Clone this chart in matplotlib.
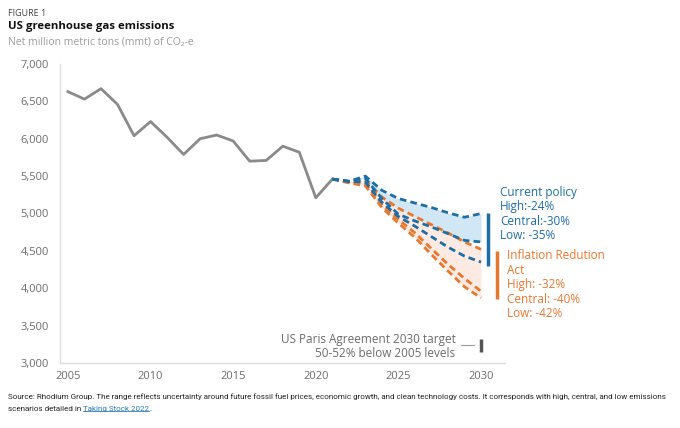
import matplotlib
matplotlib.use("Agg")
import matplotlib.pyplot as plt
from matplotlib.lines import Line2D

plt.rcParams["font.family"] = ["Open Sans", "DejaVu Sans"]

# historical net emissions, mmt CO2-e
hist_years = list(range(2005, 2022))
hist_vals = [6630, 6530, 6670, 6460, 6040, 6230, 6020, 5790, 6000, 6050,
             5970, 5700, 5710, 5900, 5820, 5210, 5460]

# projections 2021-2030
proj_years = list(range(2021, 2031))
cp_high = [5460, 5430, 5500, 5310, 5200, 5140, 5080, 5010, 4950, 5000]
cp_central = [5460, 5430, 5470, 5200, 4990, 4900, 4820, 4730, 4640, 4620]
cp_low = [5460, 5430, 5420, 5150, 4960, 4830, 4690, 4550, 4430, 4350]
ira_high = [5460, 5430, 5440, 5220, 5070, 4960, 4850, 4740, 4620, 4520]
ira_central = [5460, 5420, 5400, 5120, 4920, 4740, 4530, 4320, 4130, 3960]
ira_low = [5460, 5410, 5370, 5080, 4870, 4680, 4450, 4230, 4020, 3870]

cp_range = (5013, 4302)
ira_range = (4503, 3859)
paris_range = (3322, 3148)

x_ticks = [2005, 2010, 2015, 2020, 2025, 2030]
y_ticks = [3000, 3500, 4000, 4500, 5000, 5500, 6000, 6500, 7000]

BLUE = "#1c6ea4"
ORANGE = "#e8772e"
GRAY = "#8a8a8a"
TXT = "#6b6b6b"

fig = plt.figure(figsize=(6.8, 4.28), dpi=100)
ax = fig.add_axes([60 / 680, 1 - 363 / 428, 445 / 680, 299 / 428])

ax.fill_between(proj_years, cp_high, cp_central, color="#d2e7f5", lw=0)
ax.fill_between(proj_years, ira_high, ira_low, color="#fde8e0", lw=0, alpha=0.9)

ax.plot(hist_years, hist_vals, color=GRAY, lw=2)
dash = (2.4, 1.5)
for vals in (ira_high, ira_central, ira_low):
    ax.plot(proj_years, vals, color=ORANGE, lw=2, dashes=dash)
for vals in (cp_high, cp_central, cp_low):
    ax.plot(proj_years, vals, color=BLUE, lw=2, dashes=dash)

# range bars
ax.plot([2030.42, 2030.42], cp_range, color=BLUE, lw=2.5, clip_on=False, solid_capstyle="butt")
ax.plot([2030.97, 2030.97], ira_range, color=ORANGE, lw=2.5, clip_on=False, solid_capstyle="butt")
ax.plot([2030.0, 2030.0], paris_range, color="#555555", lw=2.5, clip_on=False, solid_capstyle="butt")
ax.plot([2028.8, 2029.6], [3240, 3240], color="#9a9a9a", lw=0.8, clip_on=False)

ax.text(2031.15, 5370, "Current policy\nHigh:-24%\nCentral:-30%\nLow: -35%",
        color=BLUE, fontsize=8.5, va="top", ha="left", linespacing=1.15)
ax.text(2031.57, 4525, "Inflation Redution\nAct\nHigh: -32%\nCentral: -40%\nLow: -42%",
        color=ORANGE, fontsize=8.5, va="top", ha="left", linespacing=1.15)
ax.text(2028.45, 3215, "US Paris Agreement 2030 target\n50-52% below 2005 levels",
        color=TXT, fontsize=8.5, va="center", ha="right", multialignment="right",
        linespacing=1.1)

ax.set_xlim(2004.52, 2031.45)
ax.set_ylim(3000, 7000)
ax.set_xticks(x_ticks)
ax.set_yticks(y_ticks)
ax.set_yticklabels([f"{v:,}" for v in y_ticks])
ax.tick_params(length=0, colors=TXT, labelsize=8, pad=8)
ax.tick_params(axis="x", pad=6)
for s in ("top", "right"):
    ax.spines[s].set_visible(False)
for s in ("left", "bottom"):
    ax.spines[s].set_color("#dddddd")
    ax.spines[s].set_linewidth(1)

fig.text(8 / 680, 1 - 13 / 428, "FIGURE 1", fontsize=6.5, color="#444444", va="center")
fig.text(8 / 680, 1 - 26 / 428, "US greenhouse gas emissions", fontsize=8.2,
         fontweight="bold", color="#111111", va="center")
fig.text(8 / 680, 1 - 42 / 428, "Net million metric tons (mmt) of CO₂-e", fontsize=7.5,
         color="#9a9a9a", va="center")

# source note: shrink the font so the first line spans the same width as the original
src_font = ["Roboto", "DejaVu Sans"]
t1 = fig.text(8 / 680, 1 - 397 / 428,
              "Source: Rhodium Group. The range reflects uncertainty around future fossil fuel prices, "
              "economic growth, and clean technology costs. It corresponds with high, central, and low emissions",
              fontsize=7, family=src_font, color="#222222", va="center")
fig.canvas.draw()
r = fig.canvas.get_renderer()
w = t1.get_window_extent(r).width
src_size = 7 * 662 / w
t1.set_fontsize(src_size)

t2 = fig.text(8 / 680, 1 - 409 / 428, "scenarios detailed in ", fontsize=src_size,
              family=src_font, color="#222222", va="center")
t3 = fig.text(0, 0, "Taking Stock 2022", fontsize=src_size, family=src_font,
              color="#2a7ab8", va="center")
t4 = fig.text(0, 0, ".", fontsize=src_size, family=src_font, color="#222222", va="center")

fig.canvas.draw()
b2 = t2.get_window_extent(r)
t3.set_position((b2.x1 / 680, 1 - 409 / 428))
fig.canvas.draw()
b3 = t3.get_window_extent(r)
t4.set_position((b3.x1 / 680, 1 - 409 / 428))
fig.add_artist(Line2D([b3.x0 / 680, b3.x1 / 680], [(b3.y0 + 1) / 428] * 2,
                      color="#2a7ab8", lw=0.6))

fig.savefig("out.png", dpi=100, facecolor="white")
